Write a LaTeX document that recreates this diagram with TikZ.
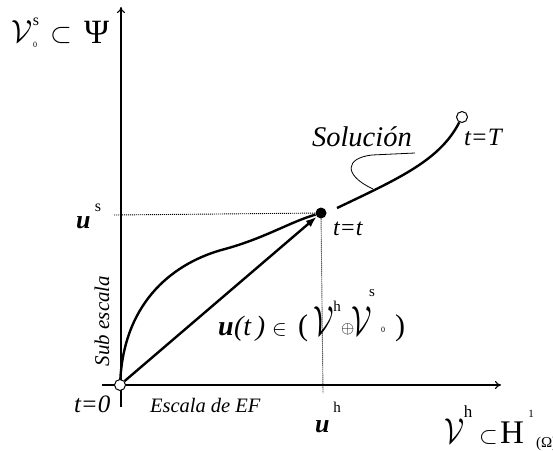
\RequirePackage{fix-cm}
\documentclass[tikz,border=0pt]{standalone}
\usepackage{fontspec}
\setmainfont{Liberation Serif}[ItalicFont={Liberation Serif Italic},BoldFont={Liberation Serif Bold},BoldItalicFont={Liberation Serif Bold Italic}]
\usetikzlibrary{arrows.meta}
\newcommand\FSz[1]{\fontsize{#1}{#1}\selectfont}
\begin{document}
\begin{tikzpicture}[x=1pt,y=-1pt,
  lbl/.style={inner sep=0pt,outer sep=0pt,anchor=base west},
  sml/.style={inner sep=0pt,outer sep=0pt},
  axis/.style={line width=1.1pt,-{To[length=6pt,width=8pt]}},
  thickc/.style={line width=2.4pt},
  thinc/.style={line width=0.8pt},
  dotl/.style={line width=0.9pt,dash pattern=on 1pt off 1pt},
  openpt/.style={circle,draw,fill=white,line width=1pt,minimum size=11pt,inner sep=0pt},
  fullpt/.style={circle,fill=black,minimum size=11pt,inner sep=0pt}]
\useasboundingbox (0,0) rectangle (553,450);
% axes
\coordinate (xa0) at (102,385);
\coordinate (xa1) at (501,385);
\coordinate (ya0) at (121,407);
\coordinate (ya1) at (121,7);
\draw[axis] (xa0) -- (xa1);
\draw[axis] (ya0) -- (ya1);
% points
\node[openpt] (O) at (120,385) {};
\node[fullpt] (P) at (321,213) {};
\node[openpt] (T) at (462,117) {};
% dotted guides
\coordinate (hd) at (114,215);
\coordinate (vd) at (323,393);
\draw[dotl] (hd) -- (P);
\draw[dotl] (P) -- (vd);
% straight and curved paths
\draw[thickc,-{Latex[length=11pt,width=8pt]}] (O) -- (P);
\coordinate (cm) at (225,249);
\draw[thickc] (O) .. controls (125,300) and (175,262) .. (cm)
  .. controls (265,238) and (290,222) .. (P);
\coordinate (S0) at (337,208);
\draw[thickc] (S0) .. controls (400,178) and (440,160) .. (T);
% leader
\coordinate (ldA) at (415,153);
\coordinate (ldB) at (372,155);
\coordinate (ldC) at (373,189);
\draw[thinc] (ldA) -- (ldB) .. controls (345,158) and (343,175) .. (ldC);
% labels top-left
\node[lbl,xscale=0.95] (Vs) at (12,42) {\FSz{32}$\mathcal{V}$};
\node[sml] (Vss) at (36,22) {\FSz{16}s};
\node[sml] (Vs0) at (35,45) {\FSz{8}0};
\node[lbl] (sub1) at (50,42) {\FSz{28}$\subset$};
\node[lbl] (Psi) at (84,43) {\FSz{34}Ψ};
% u^s
\node[lbl] (us) at (76,228) {\FSz{26}\bfseries\itshape u};
\node[sml] (uss) at (98,208) {\FSz{16}s};
% t labels
\node[lbl] (t0) at (74,412) {\FSz{25}\itshape t=0};
\node[lbl] (tt) at (333,235) {\FSz{24}\itshape t=t};
\node[lbl] (tT) at (464,145) {\FSz{25}\itshape t=T};
\node[lbl] (sol) at (312,146) {\FSz{28.5}\itshape Solución};
% axis labels
\node[lbl] (esc) at (150,412) {\FSz{20.5}\itshape Escala de EF};
\node[sml,rotate=90] (subesc) at (102,321) {\FSz{21}\itshape Sub escala};
% u^h
\node[lbl] (uh) at (315,432) {\FSz{26}\bfseries\itshape u};
\node[sml] (uhh) at (337,407) {\FSz{15}h};
% formula
\node[lbl] (fu) at (218,335) {\FSz{28}\bfseries\itshape u};
\node[lbl] (ft) at (234,335) {\FSz{28}\itshape (t\,)};
\node[lbl] (fin) at (272,335) {\FSz{22}$\in$};
\node[lbl] (fp1) at (298,335) {\FSz{30}(};
\node[lbl,xscale=0.7] (fV1) at (313,335) {\FSz{42}$\mathcal{V}$};
\node[sml] (fh) at (337,306) {\FSz{15}h};
\node[lbl] (fop) at (341,333) {\FSz{17}$\oplus$};
\node[lbl,xscale=0.7] (fV2) at (351,335) {\FSz{42}$\mathcal{V}$};
\node[sml] (fs) at (372,293) {\FSz{15}s};
\node[sml] (f0) at (383,330) {\FSz{8}0};
\node[lbl] (fp2) at (395,335) {\FSz{30})};
% bottom-right label
\node[lbl,xscale=0.8] (Vh) at (444,443) {\FSz{36}$\mathcal{V}$};
\node[sml] (Vhh) at (468,412) {\FSz{17}h};
\node[lbl] (sub2) at (479,443) {\FSz{24}$\subset$};
\node[lbl] (H) at (500,443) {\FSz{33}H};
\node[sml] (H1) at (531,414) {\FSz{11}1};
\node[lbl] (HO) at (536,447) {\FSz{15}(Ω)};
\end{tikzpicture}
\end{document}
